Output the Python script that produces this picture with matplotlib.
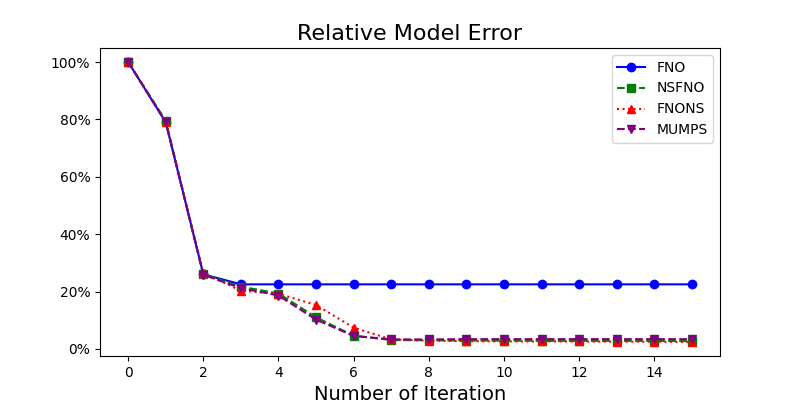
import matplotlib
matplotlib.use('Agg')
import matplotlib.pyplot as plt
from matplotlib.ticker import PercentFormatter

iterations = list(range(16))
fno = [100, 79, 26, 22.5, 22.5, 22.5, 22.5, 22.5, 22.5, 22.5, 22.5, 22.5, 22.5, 22.5, 22.5, 22.5]
nsfno = [100, 79.5, 26, 21.7, 19.3, 11, 4.6, 3.1, 3.0, 2.9, 2.9, 2.8, 2.8, 2.8, 2.8, 2.7]
fnons = [100, 79, 26.5, 20.3, 19.2, 15.3, 7.4, 3.3, 2.9, 2.7, 2.6, 2.6, 2.6, 2.5, 2.5, 2.4]
mumps = [100, 79, 25.8, 21.2, 18.6, 10.2, 4.5, 3.3, 3.3, 3.4, 3.4, 3.4, 3.4, 3.4, 3.4, 3.4]

fig, ax = plt.subplots(figsize=(8, 4), dpi=100)
ax.plot(iterations, fno, color='blue', linestyle='-', marker='o', label='FNO')
ax.plot(iterations, nsfno, color='green', linestyle='--', marker='s', label='NSFNO')
ax.plot(iterations, fnons, color='red', linestyle=':', marker='^', label='FNONS')
ax.plot(iterations, mumps, color='purple', linestyle='--', marker='v', label='MUMPS')

ax.yaxis.set_major_formatter(PercentFormatter(decimals=0))
ax.set_title('Relative Model Error', fontsize=16)
ax.set_xlabel('Number of Iteration', fontsize=14)
ax.legend(loc='upper right')

plt.savefig('out.png', dpi=100)
plt.close()
